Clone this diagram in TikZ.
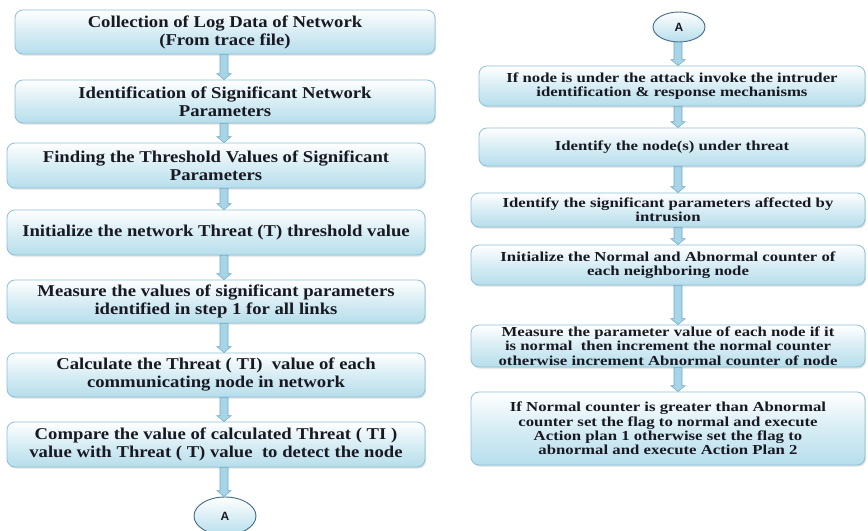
\documentclass[tikz,border=0pt]{standalone}
\usepackage{fontspec}
\setmainfont{Liberation Serif}
\setsansfont{Liberation Sans}
\newfontfamily\widesteps[FakeStretch=1.13]{Liberation Serif}
\newfontfamily\widernotes[FakeStretch=1.22]{Liberation Serif}
\usetikzlibrary{calc,shapes.geometric,shadows}
\definecolor{boxblue}{RGB}{182,222,236}
\definecolor{boxedge}{RGB}{140,194,214}
\definecolor{arrowfill}{RGB}{168,212,230}
\definecolor{arrowedge}{RGB}{110,170,200}
\definecolor{ovaledge}{RGB}{70,110,135}
\definecolor{inktext}{RGB}{25,25,35}
\tikzset{
  stepbox/.style 2 args={rectangle, rounded corners=6pt, draw=boxedge, line width=0.6pt,
    top color=white, bottom color=boxblue, middle color=boxblue!55,
    minimum width=#1*0.75pt, minimum height=#2*0.75pt, inner sep=0pt,
    align=center, text=inktext, font=\bfseries,
    drop shadow={opacity=0.25, shadow xshift=0.8pt, shadow yshift=-1.2pt}},
  leftbox/.style 2 args={stepbox={#1}{#2}, font=\widesteps\bfseries\fontsize{12.4}{13.5}\selectfont},
  rightbox/.style 2 args={stepbox={#1}{#2}, font=\widernotes\bfseries\fontsize{10.3}{10.7}\selectfont},
  connector/.style 2 args={ellipse, draw=ovaledge, line width=0.7pt,
    top color=white, bottom color=boxblue,
    minimum width=#1*0.75pt, minimum height=#2*0.75pt, inner sep=0pt,
    font=\sffamily\bfseries\fontsize{9}{10}\selectfont, text=inktext},
  flowarrow/.style={fill=arrowfill, draw=arrowedge, line width=0.4pt, line join=miter}
}
% block arrow pointing down from node #1 to node #2 at horizontal position #3
\newcommand\flowdown[3]{%
  \path[flowarrow] let \p1=(#1.south), \p2=(#2.north), \p3=(#3,0) in
    (\x3-3pt,\y1) -- (\x3-3pt,\y2+4.5pt) -- (\x3-5.4pt,\y2+4.5pt) -- (\x3,\y2)
    -- (\x3+5.4pt,\y2+4.5pt) -- (\x3+3pt,\y2+4.5pt) -- (\x3+3pt,\y1) -- cycle;}
\begin{document}
\begin{tikzpicture}[x=0.75pt,y=-0.75pt]
\useasboundingbox (0,0) rectangle (868,531);
\fill[white] (0,0) rectangle (868,531);

% left column
\node[leftbox={420}{44}] (l1) at (225,32) {Collection of Log Data of Network\\(From trace file)};
\node[leftbox={420}{43}] (l2) at (225,101.5) {Identification of Significant Network\\Parameters};
\node[leftbox={418}{45}] (l3) at (216,165.5) {Finding the Threshold Values of Significant\\Parameters};
\node[leftbox={418}{45}] (l4) at (216,232.5) {Initialize the network Threat (T) threshold value};
\node[leftbox={418}{43}] (l5) at (216,301.5) {Measure the values of significant parameters\\identified in step 1 for all links};
\node[leftbox={418}{44}] (l6) at (216,375) {Calculate the Threat ( TI)\ \ value of each\\communicating node in network};
\node[leftbox={418}{45}] (l7) at (216,444.5) {Compare the value of calculated Threat ( TI )\\value with Threat ( T) value\ \ to detect the node};
\node[connector={62}{38}] (la) at (225,516) {A};

% right column
\node[connector={52}{30}] (ra) at (679,27) {A};
\node[rightbox={386}{40}] (r1) at (672,86) {If node is under the attack invoke the intruder\\identification \& response mechanisms};
\node[rightbox={386}{38}] (r2) at (672,147) {Identify the node(s) under threat};
\node[rightbox={394}{34}] (r3) at (668,210) {Identify the significant parameters affected by\\intrusion};
\node[rightbox={394}{40}] (r4) at (668,265) {Initialize the Normal and Abnormal counter of\\each neighboring node};
\node[rightbox={394}{42}] (r5) at (668,346) {Measure the parameter value of each node if it\\is normal\ \ then increment the normal counter\\otherwise increment Abnormal counter of node};
\node[rightbox={394}{73}] (r6) at (668,428.5) {If Normal counter is greater than Abnormal\\counter set the flag to normal and execute\\Action plan 1 otherwise set the flag to\\abnormal and execute Action Plan 2};

% arrows
\flowdown{l1}{l2}{224}
\flowdown{l2}{l3}{224}
\flowdown{l3}{l4}{224}
\flowdown{l4}{l5}{224}
\flowdown{l5}{l6}{224}
\flowdown{l6}{l7}{224}
\flowdown{l7}{la}{224}
\flowdown{ra}{r1}{678}
\flowdown{r1}{r2}{678}
\flowdown{r2}{r3}{678}
\flowdown{r3}{r4}{678}
\flowdown{r4}{r5}{678}
\flowdown{r5}{r6}{678}
\end{tikzpicture}
\end{document}
